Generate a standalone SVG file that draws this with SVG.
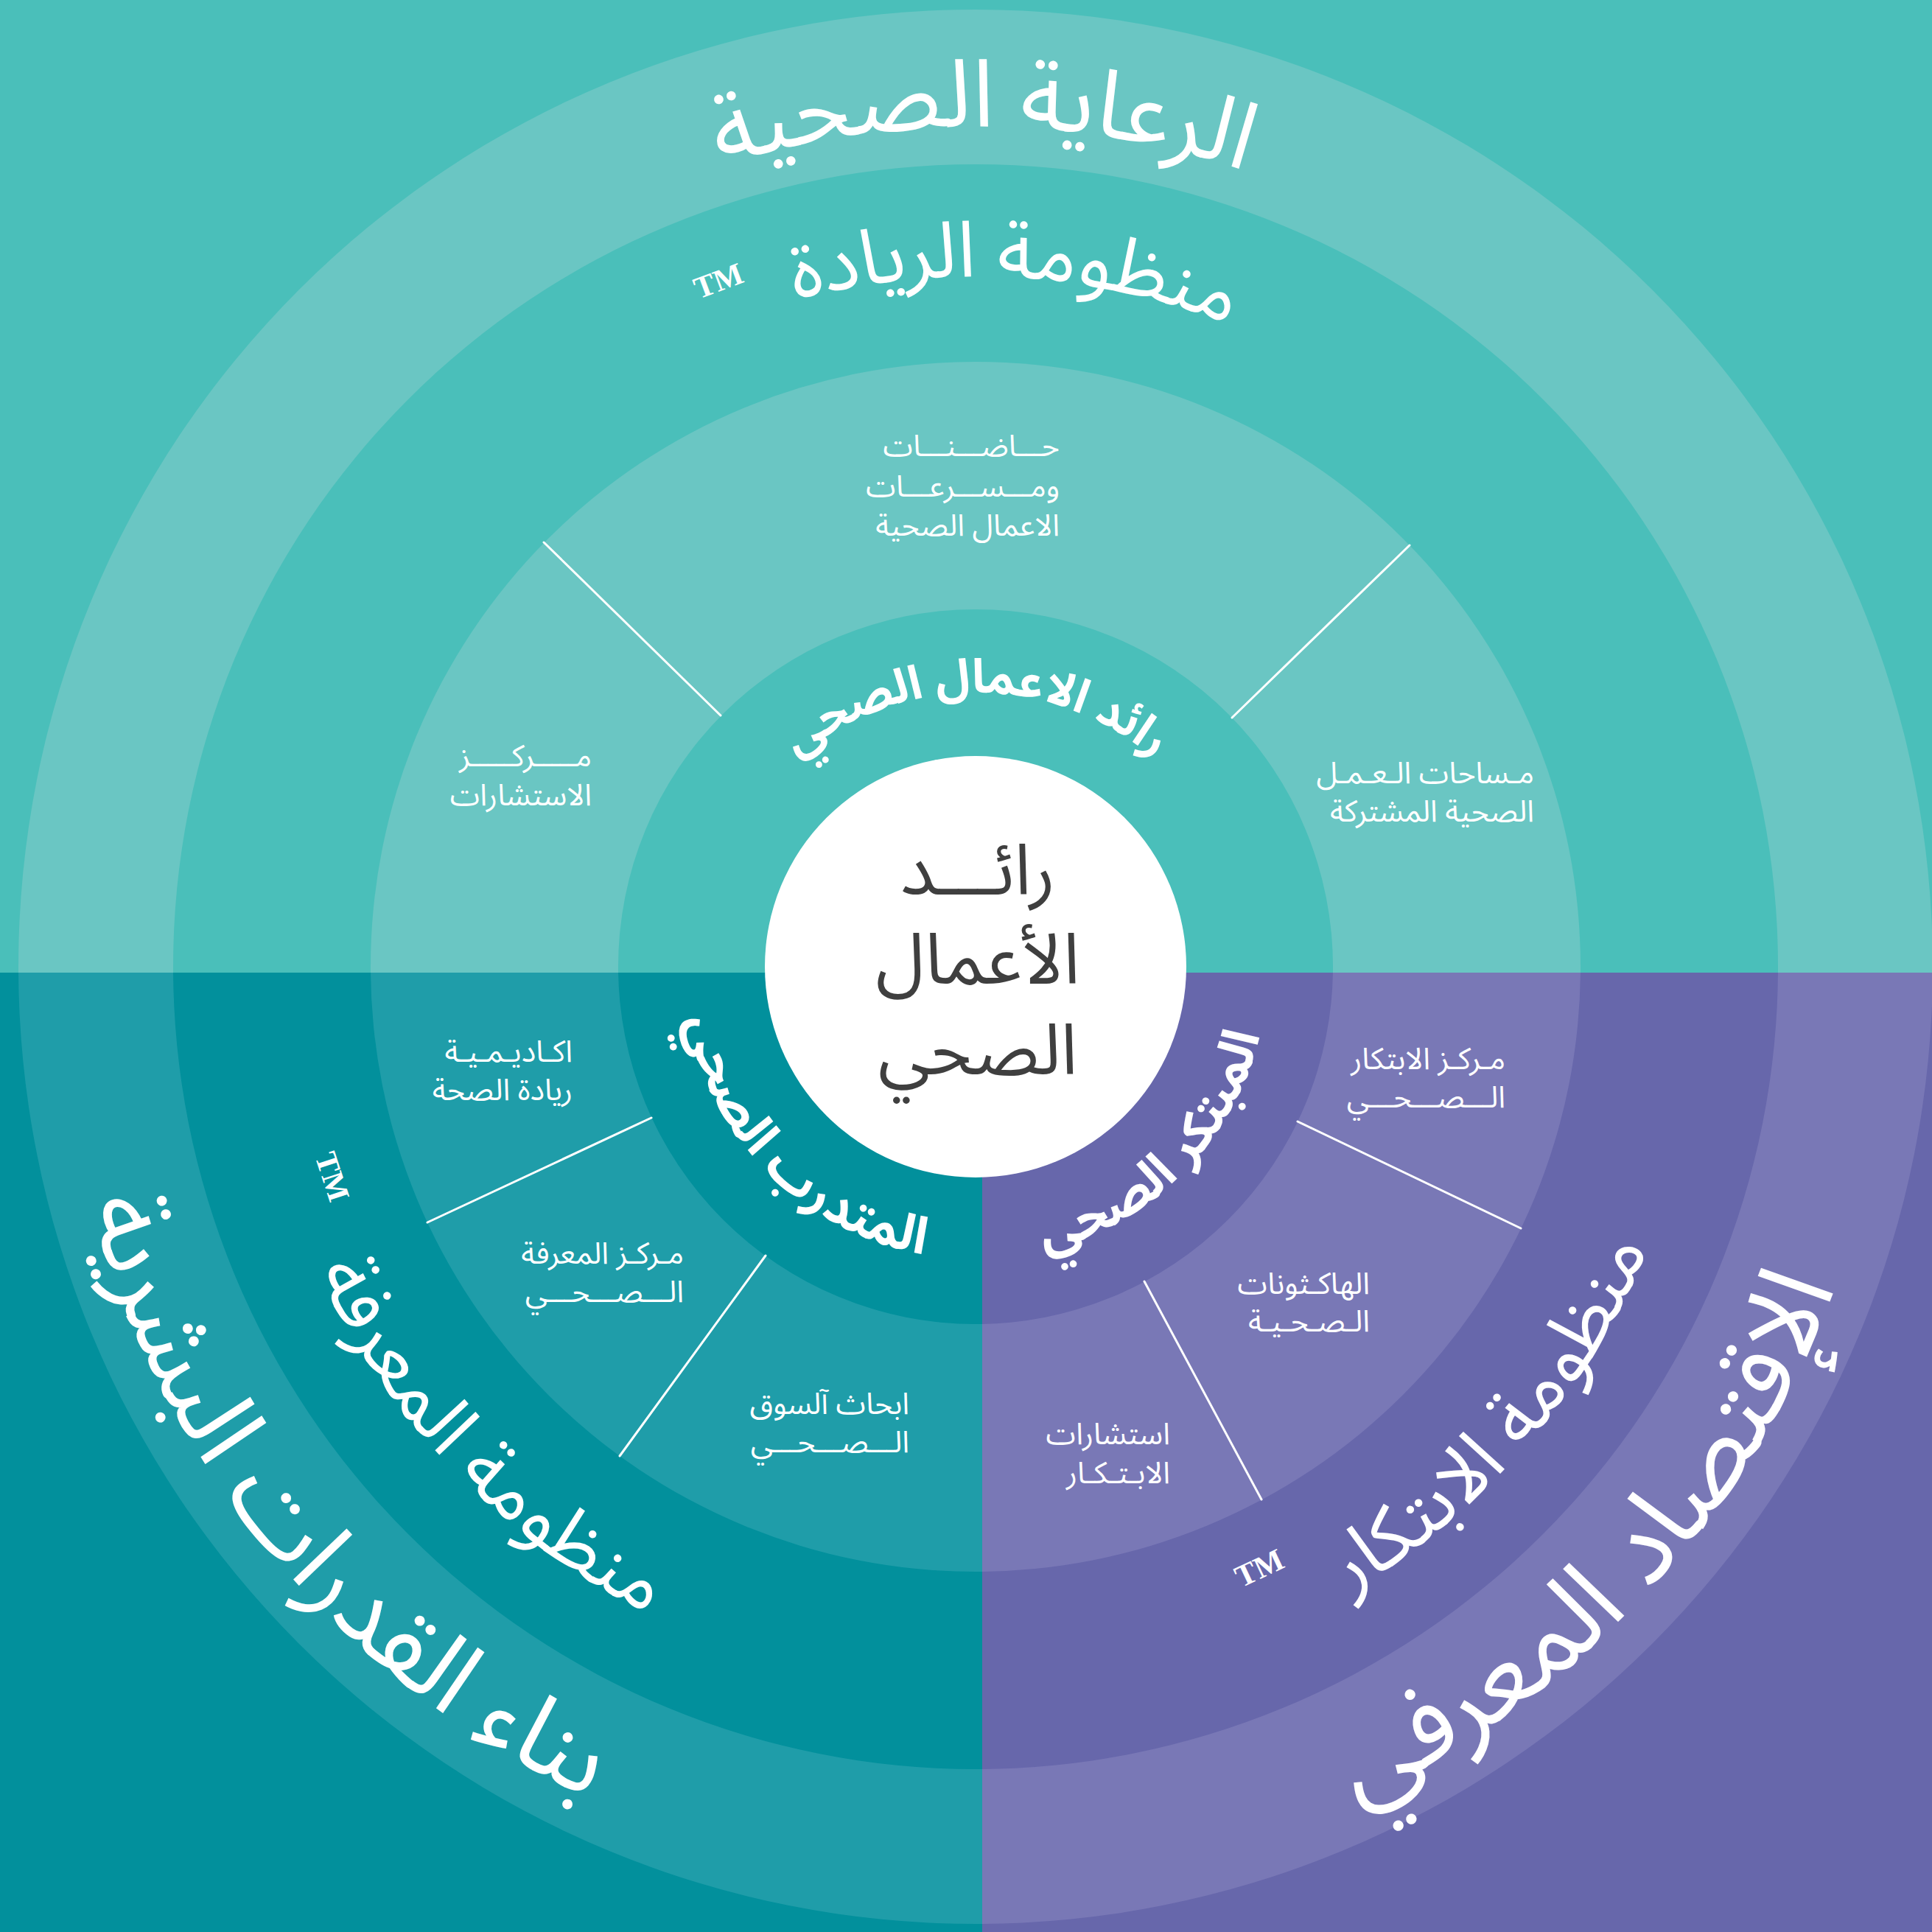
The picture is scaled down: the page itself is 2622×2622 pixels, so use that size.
<svg xmlns="http://www.w3.org/2000/svg" width="2622" height="2622" viewBox="0 0 2622 2622">
<style>
.ar{font-family:"Noto Sans Arabic","Noto Naskh Arabic","DejaVu Sans",sans-serif;fill:#fff}
.outerTop{font-size:128px}
.outerBL{font-size:140px}
.outerBR{font-size:145px}
.mid{font-size:106px}
.innerTop{font-size:64px;font-weight:bold}
.innerBot{font-size:70px;font-weight:bold}
.item{font-size:41px;text-anchor:end}
.tm{font-family:"Liberation Serif",serif;font-size:42px;font-weight:bold;fill:#fff;text-anchor:middle}
.div{stroke:#fff;stroke-width:3;stroke-linecap:round}
.center{font-family:"Noto Sans Arabic","DejaVu Sans",sans-serif;font-size:96px;fill:#3f3f3f;text-anchor:middle}
</style>
<defs>
<clipPath id="cTop"><rect x="0" y="0" width="2622" height="1320"/></clipPath>
<clipPath id="cBL"><rect x="0" y="1320" width="1333" height="1302"/></clipPath>
<clipPath id="cBR"><rect x="1333" y="1320" width="1289" height="1302"/></clipPath>
<path id="pTopOuter" d="M188.3 1212.6 A1140 1140 0 0 1 2459.7 1212.6"/>
<path id="pTopMid" d="M390.6 1230.3 A937 937 0 0 1 2257.4 1230.3"/>
<path id="pTopInner" d="M953.4 1279.6 A372 372 0 0 1 1694.6 1279.6"/>
<path id="pBLOuter" d="M443.7 431.7 A1245 1245 0 0 0 2038.1 2331.8"/>
<path id="pBLMid" d="M577.6 663.2 A990 990 0 0 0 1947.0 2081.4"/>
<path id="pBLInner" d="M1019.9 1056.8 A397 397 0 0 0 1579.2 1616.1"/>
<path id="pBROuter" d="M557.5 2293.1 A1245 1245 0 0 0 2249.2 478.9"/>
<path id="pBRMid" d="M742.1 2112.9 A990 990 0 0 0 2036.2 624.3"/>
<path id="pBRInner" d="M1068.8 1616.1 A397 397 0 0 0 1628.1 1056.8"/>
</defs>

<g id="background">
<g clip-path="url(#cTop)">
<rect x="0" y="0" width="2622" height="1320" fill="#4ABFBA"/>
<circle cx="1324" cy="1312" r="1299" fill="#6AC6C3"/>
<circle cx="1324" cy="1312" r="1089" fill="#4ABFBA"/>
<circle cx="1324" cy="1312" r="821" fill="#6AC6C3"/>
<circle cx="1324" cy="1312" r="485" fill="#4ABFBA"/>
</g>
<g clip-path="url(#cBL)">
<rect x="0" y="1320" width="1333" height="1302" fill="#02909C"/>
<circle cx="1324" cy="1312" r="1299" fill="#1F9DA9"/>
<circle cx="1324" cy="1312" r="1089" fill="#02909C"/>
<circle cx="1324" cy="1312" r="821" fill="#1F9DA9"/>
<circle cx="1324" cy="1312" r="485" fill="#02909C"/>
</g>
<g clip-path="url(#cBR)">
<rect x="1333" y="1320" width="1289" height="1302" fill="#6767AB"/>
<circle cx="1324" cy="1312" r="1299" fill="#7978B6"/>
<circle cx="1324" cy="1312" r="1089" fill="#6767AB"/>
<circle cx="1324" cy="1312" r="821" fill="#7978B6"/>
<circle cx="1324" cy="1312" r="485" fill="#6767AB"/>
</g>
</g>

<g id="connectors">
<line class="div" x1="978" y1="971" x2="738" y2="736"/>
<line class="div" x1="1672" y1="974" x2="1913" y2="740"/>
<line class="div" x1="884" y1="1517" x2="580" y2="1659"/>
<line class="div" x1="1039" y1="1704" x2="841" y2="1976"/>
<line class="div" x1="1761" y1="1522" x2="2064" y2="1667"/>
<line class="div" x1="1553" y1="1739" x2="1712" y2="2035"/>
</g>

<g id="node-center">
<circle cx="1324" cy="1312" r="286" fill="#FFFFFF"/>
<text class="center" x="1327" y="1214">رائـــد</text>
<text class="center" x="1327" y="1335">الأعمال</text>
<text class="center" x="1327" y="1458">الصحي</text>
</g>

<g id="node-healthcare">
<text class="ar outerTop"><textPath href="#pTopOuter" startOffset="50.3%" text-anchor="middle">الرعاية الصحية</textPath></text>
</g>
<g id="node-entrepreneurship-system">
<text class="ar mid"><textPath href="#pTopMid" startOffset="51.9%" text-anchor="middle">منظومة الريادة</textPath></text>
<text class="tm" transform="translate(975 381) rotate(-20.5)" dy="14">TM</text>
</g>
<g id="node-entrepreneur">
<text class="ar innerTop"><textPath href="#pTopInner" startOffset="50%" text-anchor="middle">رائد الاعمال الصحي</textPath></text>
</g>

<g id="node-human-capacity">
<text class="ar outerBL"><textPath href="#pBLOuter" startOffset="50%" text-anchor="middle">بناء القدرات البشرية</textPath></text>
</g>
<g id="node-knowledge-system">
<text class="ar mid"><textPath href="#pBLMid" startOffset="50%" text-anchor="middle">منظومة المعرفة</textPath></text>
<text class="tm" transform="translate(451 1597) rotate(71.9)" dy="14">TM</text>
</g>
<g id="node-trainee">
<text class="ar innerBot"><textPath href="#pBLInner" startOffset="50%" text-anchor="middle">المتدرب الصحي</textPath></text>
</g>

<g id="node-knowledge-economy">
<text class="ar outerBR"><textPath href="#pBROuter" startOffset="50%" text-anchor="middle">الإقتصاد المعرفي</textPath></text>
</g>
<g id="node-innovation-system">
<text class="ar mid"><textPath href="#pBRMid" startOffset="50%" text-anchor="middle">منظومة الابتكار</textPath></text>
<text class="tm" transform="translate(1709 2128) rotate(-25.3)" dy="14">TM</text>
</g>
<g id="node-innovator">
<text class="ar innerBot"><textPath href="#pBRInner" startOffset="50%" text-anchor="middle">المبتكر الصحي</textPath></text>
</g>

<g id="node-incubators">
<text class="ar item" x="1438" y="619">حـــاضـــنـــات</text>
<text class="ar item" x="1438" y="674">ومـــســـرعـــات</text>
<text class="ar item" x="1438" y="727">الاعمال الصحية</text>
</g>
<g id="node-consulting-center">
<text class="ar item" x="803" y="1040">مـــــركـــــز</text>
<text class="ar item" x="803" y="1093">الاستشارات</text>
</g>
<g id="node-coworking">
<text class="ar item" x="2082" y="1063">مـساحات الـعـمـل</text>
<text class="ar item" x="2082" y="1115">الصحية المشتركة</text>
</g>
<g id="node-academy">
<text class="ar item" x="777" y="1441">اكـاديـمـيـة</text>
<text class="ar item" x="777" y="1493">ريادة الصحة</text>
</g>
<g id="node-knowledge-center">
<text class="ar item" x="928" y="1715">مـركـز المعرفة</text>
<text class="ar item" x="928" y="1767">الـــصـــحـــي</text>
</g>
<g id="node-market-research">
<text class="ar item" x="1234" y="1919">ابحاث آلسوق</text>
<text class="ar item" x="1234" y="1971">الـــصـــحـــي</text>
</g>
<g id="node-innovation-center">
<text class="ar item" x="2043" y="1451">مـركـز الابتكار</text>
<text class="ar item" x="2043" y="1503">الـــصـــحـــي</text>
</g>
<g id="node-hackathons">
<text class="ar item" x="1859" y="1756">الهاكـثونات</text>
<text class="ar item" x="1859" y="1807">الـصـحـيـة</text>
</g>
<g id="node-innovation-consulting">
<text class="ar item" x="1588" y="1960">استشارات</text>
<text class="ar item" x="1588" y="2013">الابـتـكـار</text>
</g>
</svg>
